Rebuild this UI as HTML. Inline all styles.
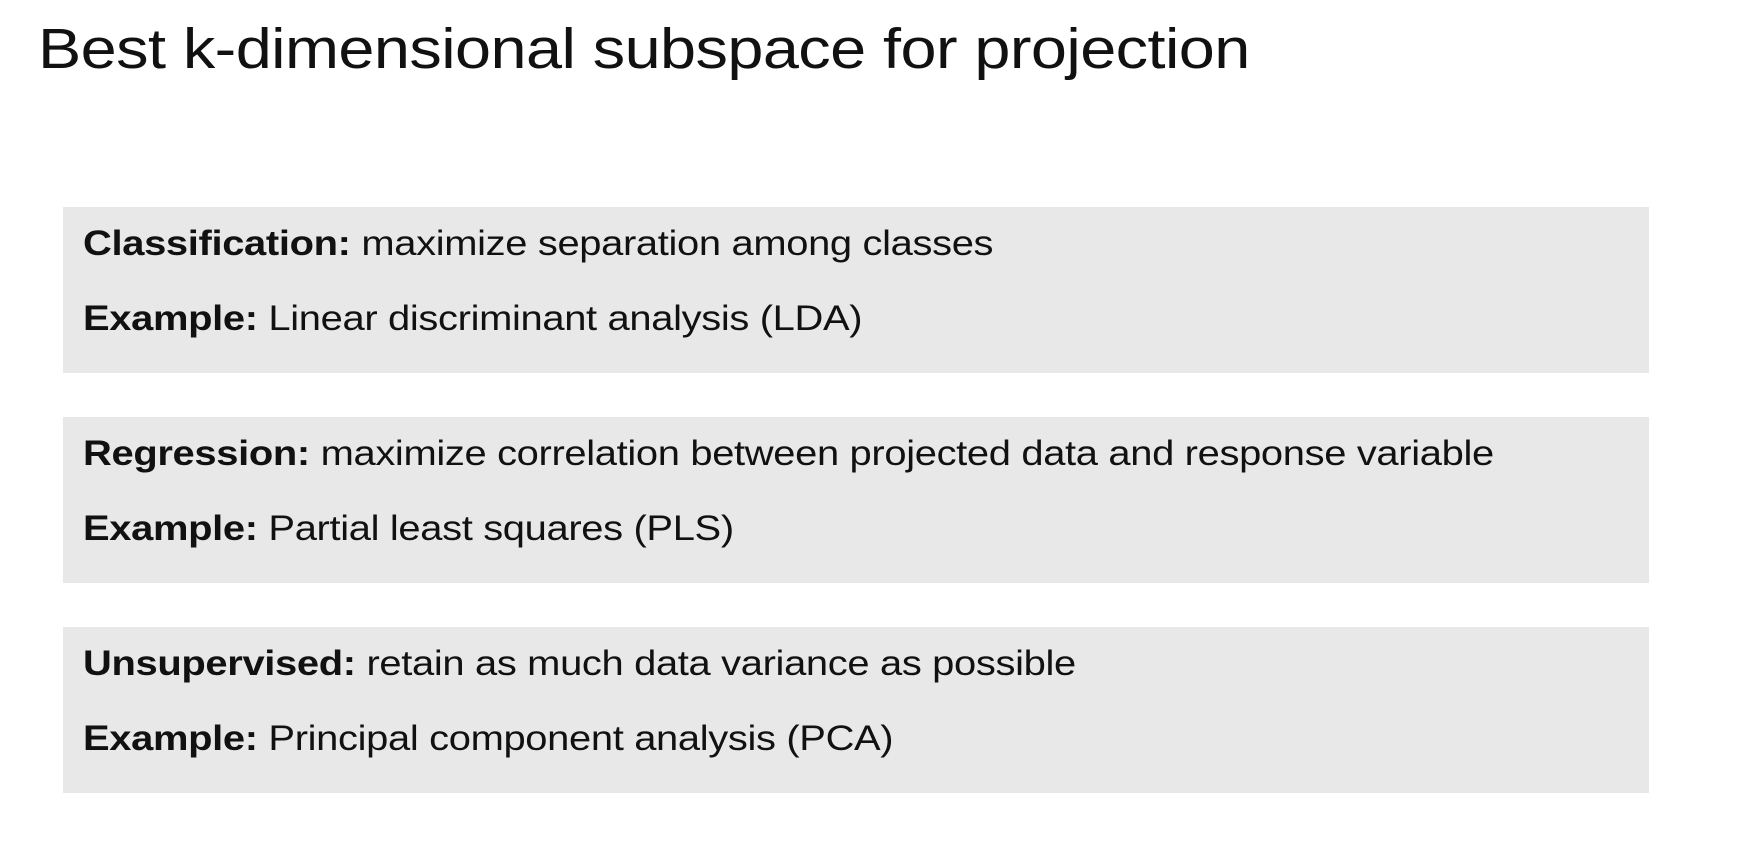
<!DOCTYPE html>
<html><head><meta charset="utf-8"><style>
html,body{margin:0;padding:0;background:#fff;width:1740px;height:842px;overflow:hidden;font-family:"Liberation Sans",sans-serif;color:#111}
.title{position:absolute;left:38px;top:14px;font-size:57px;line-height:70px;white-space:nowrap;letter-spacing:-0.5px;transform:scaleX(1.137);transform-origin:0 0}
.box{position:absolute;left:63px;width:1586px;height:166px;background:#e8e8e8}
.line{position:absolute;left:20px;font-size:35px;line-height:40px;white-space:nowrap;letter-spacing:-0.3px;transform:scaleX(1.14);transform-origin:0 0}
.l1{top:17px}.l2{top:92px}
b{font-weight:bold}
</style></head><body>
<div class="title">Best k-dimensional subspace for projection</div>
<div class="box" style="top:207px">
<div class="line l1"><b>Classification:</b> maximize separation among classes</div>
<div class="line l2"><b>Example:</b> Linear discriminant analysis (LDA)</div>
</div>
<div class="box" style="top:417px">
<div class="line l1"><b>Regression:</b> maximize correlation between projected data and response variable</div>
<div class="line l2"><b>Example:</b> Partial least squares (PLS)</div>
</div>
<div class="box" style="top:627px">
<div class="line l1"><b>Unsupervised:</b> retain as much data variance as possible</div>
<div class="line l2"><b>Example:</b> Principal component analysis (PCA)</div>
</div>
</body></html>
